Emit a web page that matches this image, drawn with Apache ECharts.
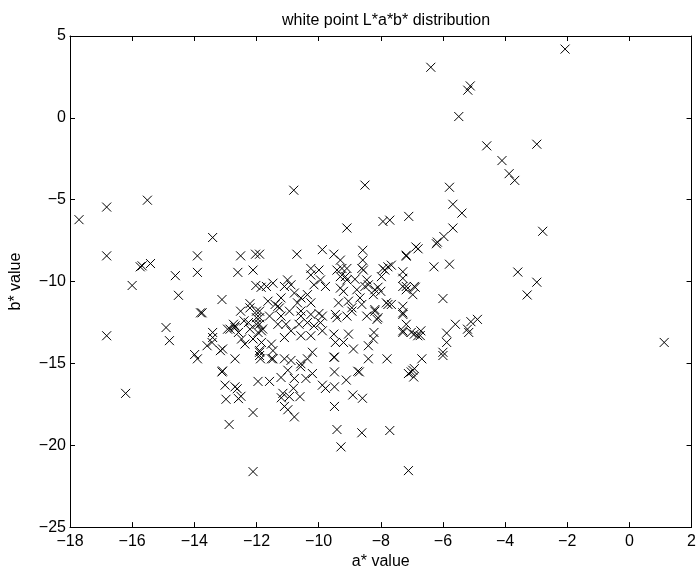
<!DOCTYPE html>
<html lang="en">

<head>
  <meta charset="UTF-8">
  <title>white point L*a*b* distribution</title>
  <script src="https://cdn.jsdelivr.net/npm/echarts@6/dist/echarts.min.js"></script>
  <style>
    html, body { margin: 0; padding: 0; background: #fff; }
    #main { width: 699px; height: 575px; }
  </style>
</head>

<body>
  <div id="main"></div>
  <script>
    // axis ticks
    const aTicks = [-18, 2, 2]   // min, max, step
    const bTicks = [-25, 5, 5]

    // [a*, b*] pairs
    const upperRight = [
      [-2.07, 4.2], [-6.39, 3.09], [-5.12, 1.95], [-5.2, 1.69], [-5.49, 0.08],
      [-4.59, -1.71], [-2.98, -1.61], [-4.1, -2.61], [-3.87, -3.41], [-3.69, -3.82],
      [-5.79, -4.24], [-5.68, -5.28], [-5.39, -5.82], [-5.68, -6.73], [-2.79, -6.93],
      [-3.59, -9.42], [-2.98, -10.04], [-3.29, -10.82], [1.12, -13.72],
      [-5.97, -7.25], [-6.18, -7.59], [-5.79, -8.94], [-6.0, -11.04],
      [-5.6, -12.61], [-5.1, -12.45], [-4.89, -12.31], [-5.21, -12.91], [-5.17, -13.11],
      [-5.88, -13.15], [-5.88, -13.72], [-6.0, -14.32], [-6.0, -14.52]
    ]

    const leftSide = [
      [-17.71, -6.22], [-16.82, -5.45], [-15.51, -5.03], [-16.82, -8.43], [-15.74, -9.1],
      [-15.68, -9.04], [-15.41, -8.9], [-16.0, -10.24], [-14.61, -9.64], [-14.51, -10.84],
      [-16.82, -13.31], [-14.91, -12.81], [-14.8, -13.61], [-16.21, -16.83], [-13.9, -8.43],
      [-13.9, -9.44], [-13.41, -7.31], [-13.8, -11.91], [-13.11, -11.1], [-13.99, -14.46],
      [-13.9, -14.72], [-13.59, -13.92], [-13.41, -13.11], [-13.41, -13.42], [-13.43, -13.72],
      [-13.16, -14.22], [-13.09, -14.12], [-13.09, -15.46], [-13.75, -11.91]
    ]

    const coreUpper = [
      [-12.51, -8.43], [-12.6, -9.44], [-12.03, -8.33], [-11.9, -8.33], [-12.11, -9.3],
      [-12.02, -10.24], [-11.85, -10.35], [-10.7, -8.33], [-9.88, -8.05], [-9.51, -8.33],
      [-8.58, -8.09], [-8.58, -8.69], [-9.3, -8.69], [-7.18, -8.39], [-6.87, -7.89],
      [-6.8, -8.0], [-6.29, -9.1], [-6.21, -7.69], [-10.25, -9.2], [-9.99, -9.3],
      [-9.41, -9.3], [-9.09, -9.2], [-8.56, -9.3], [-7.87, -9.3], [-7.66, -9.0],
      [-7.98, -9.7], [-7.29, -9.4], [-7.29, -9.8], [-10.25, -9.6], [-9.94, -9.9],
      [-9.3, -9.7], [-9.09, -9.9], [-8.83, -9.86], [-8.45, -9.9], [-11.0, -9.9],
      [-10.8, -4.42], [-8.51, -4.11], [-9.09, -6.73], [-7.93, -6.33], [-7.71, -6.25],
      [-7.1, -6.02], [-7.18, -8.45], [-7.93, -9.2], [-7.77, -9.1], [-8.61, -9.2],
      [-9.25, -9.2], [-9.14, -9.7]
    ]

    const coreMiddle = [
      [-11.68, -10.3], [-11.47, -10.1], [-11.1, -10.3], [-10.89, -10.2], [-10.15, -10.2],
      [-9.78, -10.3], [-9.3, -10.4], [-9.2, -10.6], [-8.77, -10.5], [-8.4, -10.2],
      [-8.09, -10.35], [-8.0, -10.6], [-7.18, -10.5], [-6.89, -10.35], [-6.97, -10.8],
      [-7.29, -10.3], [-7.18, -10.3], [-6.92, -10.3], [-8.51, -10.3], [-8.19, -10.5],
      [-8.24, -10.8], [-11.63, -11.2], [-11.31, -11.51], [-11.21, -11.0], [-10.78, -10.7],
      [-10.57, -11.0], [-10.36, -10.8], [-10.68, -11.3], [-10.25, -11.3], [-9.36, -11.3],
      [-9.04, -11.2], [-8.67, -11.0], [-8.61, -11.4], [-7.82, -11.3], [-7.66, -11.4],
      [-7.29, -11.51], [-7.29, -11.91], [-7.77, -11.4], [-12.51, -11.81], [-12.21, -11.35],
      [-12.0, -11.81], [-12.21, -11.61], [-11.9, -11.81], [-12.0, -12.21], [-11.26, -11.61],
      [-11.21, -12.11], [-10.94, -11.81], [-10.57, -12.11], [-10.25, -12.01], [-9.88, -12.11],
      [-9.46, -12.01], [-9.41, -12.21], [-9.09, -12.11], [-8.93, -11.81], [-8.45, -12.11],
      [-8.19, -11.71], [-8.09, -12.21], [-8.19, -11.81], [-7.29, -12.01], [-8.12, -12.31],
      [-11.58, -12.11], [-11.4, -11.4], [-10.57, -11.8], [-9.99, -11.95], [-8.93, -11.6],
      [-12.4, -12.4], [-11.9, -12.21]
    ]

    const coreLower = [
      [-12.69, -14.72], [-12.93, -12.91], [-12.74, -12.61], [-12.69, -12.81], [-12.58, -13.11],
      [-12.48, -13.51], [-12.26, -12.51], [-12.21, -12.91], [-12.11, -13.51], [-12.0, -12.61],
      [-11.95, -13.11], [-11.84, -13.72], [-11.8, -12.9], [-12.37, -13.82], [-11.9, -14.32],
      [-11.9, -14.52], [-11.87, -14.72], [-12.69, -12.71], [-12.85, -12.91], [-11.9, -12.61],
      [-11.84, -13.01], [-11.31, -12.61], [-11.05, -12.61], [-10.89, -13.01], [-11.1, -13.42],
      [-10.63, -12.61], [-10.36, -12.51], [-10.15, -12.71], [-9.94, -12.51], [-9.88, -13.01],
      [-10.25, -13.31], [-10.57, -13.31], [-9.51, -13.21], [-9.46, -13.72], [-9.2, -13.72],
      [-9.04, -13.21], [-8.88, -14.12], [-8.4, -13.92], [-8.24, -13.51], [-8.22, -13.11],
      [-7.29, -13.01], [-7.18, -12.61], [-6.92, -13.21], [-6.71, -13.01], [-6.73, -13.3],
      [-7.29, -13.11], [-7.02, -13.11], [-6.81, -13.31], [-11.52, -13.82], [-11.47, -14.22],
      [-11.52, -14.72], [-11.1, -14.72], [-10.89, -14.82], [-10.57, -15.02], [-10.36, -14.72],
      [-10.2, -14.32], [-9.51, -14.62], [-8.4, -14.72], [-7.8, -14.72], [-6.68, -14.72],
      [-11.47, -14.72], [-11.9, -14.22]
    ]

    const lowerTail = [
      [-13.11, -15.52], [-13.01, -16.33], [-12.98, -17.19], [-12.88, -18.73], [-12.69, -16.43],
      [-12.62, -16.55], [-12.58, -17.15], [-12.5, -17.01], [-12.11, -18.0], [-12.11, -21.61],
      [-11.95, -16.1], [-11.58, -16.1], [-11.21, -15.86], [-11.15, -16.83], [-11.2, -17.1],
      [-11.1, -17.63], [-10.99, -17.83], [-10.78, -18.27], [-10.99, -15.42], [-10.94, -17.03],
      [-10.81, -16.52], [-10.78, -15.92], [-10.6, -17.03], [-10.41, -15.92], [-10.2, -15.62],
      [-10.58, -15.2], [-9.88, -16.33], [-9.78, -16.53], [-9.49, -15.52], [-9.49, -16.43],
      [-9.49, -17.63], [-9.41, -19.04], [-9.28, -20.1], [-9.11, -16.02], [-8.9, -16.93],
      [-8.69, -15.52], [-8.59, -17.13], [-8.61, -19.24], [-7.71, -19.1], [-7.11, -15.62],
      [-6.97, -15.42], [-6.94, -15.83], [-7.11, -21.55], [-8.74, -15.48], [-7.02, -15.52],
      [-6.92, -15.32], [-9.49, -14.62]
    ]

    const points = [].concat(upperRight, leftSide, coreUpper, coreMiddle, coreLower, lowerTail)

    const font = 'Liberation Sans, Arial, Helvetica, sans-serif'
    const minus = v => String(v).replace('-', '\u2212')

    function axis(ticks, extra) {
      return Object.assign({
        type: 'value',
        min: ticks[0],
        max: ticks[1],
        interval: ticks[2],
        splitLine: { show: false },
        axisLine: { show: true, onZero: false, lineStyle: { color: '#000', width: 1 } },
        axisTick: { show: true, inside: true, length: 5, lineStyle: { color: '#000' } },
        axisLabel: { color: '#000', fontSize: 16, fontFamily: font, formatter: minus }
      }, extra)
    }

    let myChart = echarts.init(document.querySelector('#main'), null, { renderer: 'canvas' })

    let option = {
      animation: false,
      backgroundColor: '#fff',
      title: {
        text: 'white point L*a*b* distribution',
        left: 381,
        top: 8,
        textAlign: 'center',
        textStyle: { color: '#000', fontSize: 16, fontWeight: 'normal', fontFamily: font }
      },
      grid: { left: 66, right: 3, top: 36, bottom: 41 },
      xAxis: [
        axis(aTicks, {
          position: 'bottom',
          name: 'a* value',
          nameLocation: 'middle',
          nameGap: 24,
          nameTextStyle: { color: '#000', fontSize: 16, fontFamily: font },
          axisLabel: { color: '#000', fontSize: 16, fontFamily: font, margin: 6, formatter: minus }
        }),
        axis(aTicks, { position: 'top', axisLabel: { show: false } })
      ],
      yAxis: [
        axis(bTicks, {
          position: 'left',
          name: 'b* value',
          nameLocation: 'middle',
          nameGap: 46,
          nameTextStyle: { color: '#000', fontSize: 16, fontFamily: font },
          axisLabel: { color: '#000', fontSize: 16, fontFamily: font, margin: 4, formatter: minus }
        }),
        axis(bTicks, { position: 'right', axisLabel: { show: false } })
      ],
      series: [
        {
          type: 'scatter',
          data: points,
          symbol: 'path://M0,0L10,10M10,0L0,10',
          symbolSize: 9,
          itemStyle: { color: 'transparent', borderColor: '#000', borderWidth: 1, opacity: 1 },
          emphasis: { disabled: true },
          silent: true
        }
      ]
    };

    myChart.setOption(option);
  </script>
</body>

</html>
